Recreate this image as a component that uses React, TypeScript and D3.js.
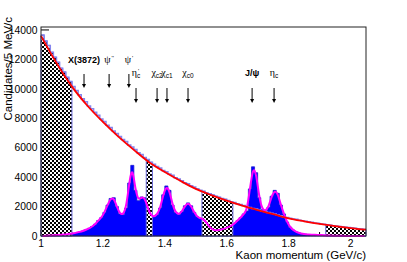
import React from 'react';
import * as d3 from 'd3';

// bins of 10 MeV/c starting at 1.00 GeV/c
const binStart = 1.0;
const binWidth = 0.01;

// inclusive spectrum (points along the background fit)
const totalCounts = [
  13650, 13250, 12950, 12480, 12150, 11800, 11400, 11150, 10780, 10500,
  10150, 9880, 9600, 9330, 9120, 8830, 8650, 8400, 8200, 7950,
  7780, 7520, 7380, 7130, 6970, 6760, 6560, 6420, 6180, 6050,
  5870, 5650, 5540, 5330, 5200, 5010, 4880, 4720, 4620, 4450,
  4360, 4220, 4130, 3960, 3870, 3760, 3620, 3550, 3410, 3330,
  3210, 3100, 3040, 2930, 2870, 2790, 2700, 2640, 2550, 2490,
  2410, 2320, 2270, 2190, 2140, 2070, 1990, 1940, 1870, 1830,
  1770, 1700, 1660, 1590, 1550, 1490, 1420, 1380, 1310, 1260,
  1210, 1160, 1130, 1070, 1040, 1000, 960, 930, 890, 860,
  820, 800, 760, 730, 700, 670, 650, 620, 590, 570,
  540, 520, 500, 470, 450
];

// signal spectrum (blue filled histogram)
const signalCounts = [
  0, 20, 30, 40, 50, 60, 80, 100, 120, 150,
  180, 230, 280, 340, 420, 520, 640, 800, 1050, 1250,
  1600, 2100, 2550, 2600, 2000, 1500, 1450, 1900, 3600, 4800,
  3100, 2400, 2650, 2600, 1900, 1400, 1300, 1450, 1900, 2800,
  3400, 3100, 2100, 1600, 1450, 1650, 2050, 2250, 2050, 1600,
  1300, 1200, 1150, 900, 600, 420, 380, 400, 450, 520,
  600, 700, 850, 1050, 1250, 1500, 1700, 3200, 4700, 4300,
  2600, 1800, 1700, 1950, 2700, 3100, 2900, 2100, 1500, 950,
  600, 400, 280, 200, 150, 120, 100, 90, 80, 70,
  60, 50, 40, 30, 20, 20, 10, 10, 10, 0,
  0, 0, 0, 0, 0
];

// background fit
const bgFitX = [1.0, 1.05, 1.1, 1.15, 1.2, 1.25, 1.3, 1.35, 1.4, 1.45, 1.5,
  1.55, 1.6, 1.65, 1.7, 1.75, 1.8, 1.85, 1.9, 1.95, 2.0, 2.05];
const bgFitY = [13600, 11750, 10150, 8850, 7750, 6750, 5850, 5000, 4350, 3750, 3200,
  2780, 2400, 2060, 1760, 1480, 1200, 1000, 820, 670, 540, 430];

// excluded momentum ranges
const vetoLow = [1.0, 1.34, 1.52, 1.92];
const vetoHigh = [1.1, 1.36, 1.62, 2.05];

const xTicks = [1, 1.2, 1.4, 1.6, 1.8, 2];
const xTickLabels = ['1', '1.2', '1.4', '1.6', '1.8', '2'];
const yTicks = [0, 2000, 4000, 6000, 8000, 10000, 12000, 14000];

// charmonium states
const markerMain = ['X(3872)', 'ψ', 'ψ', 'η', 'χ', 'χ', 'χ', 'J/ψ', 'η'];
const markerSup = ['', "''", "'", "'", '', '', '', '', ''];
const markerSub = ['', '', '', 'c', 'c2', 'c1', 'c0', '', 'c'];
const markerBold = [true, false, false, false, false, false, false, true, false];
const markerRow = [0, 0, 0, 1, 1, 1, 1, 1, 1];
const markerPos = [1.139, 1.22, 1.284, 1.307, 1.375, 1.407, 1.475, 1.682, 1.753];

const SANS = '"Liberation Sans", Arial, Helvetica, sans-serif';
const SERIF = '"Liberation Serif", "Times New Roman", serif';

const App: React.FC = () => {
  const svgRef = React.useRef<SVGSVGElement>(null);
  const width = 407;
  const height = 262;

  React.useEffect(() => {
    if (!svgRef.current) return;
    const svg = d3.select(svgRef.current);
    svg.selectAll('*').remove();

    const left = 41, right = 366, top = 27, bottom = 236;
    const x = d3.scaleLinear().domain([1.0, 2.05]).range([left, right]);
    const y = d3.scaleLinear().domain([0, 14200]).range([bottom, top]);

    // checkerboard fill for the vetoed regions
    const pat = svg.append('defs').append('pattern')
      .attr('id', 'checker')
      .attr('patternUnits', 'userSpaceOnUse')
      .attr('width', 4).attr('height', 4);
    pat.append('rect').attr('width', 4).attr('height', 4).attr('fill', '#fff');
    pat.append('rect').attr('width', 2).attr('height', 2).attr('fill', '#000');
    pat.append('rect').attr('x', 2).attr('y', 2).attr('width', 2).attr('height', 2).attr('fill', '#000');

    svg.append('rect').attr('width', width).attr('height', height).attr('fill', '#fff');

    // axis ticks (inside the frame)
    const g = svg.append('g');
    g.selectAll('.ytick').data(yTicks).enter().append('line')
      .attr('x1', left).attr('x2', left + 8)
      .attr('y1', d => y(d)).attr('y2', d => y(d))
      .attr('stroke', '#000');
    const xMinor = d3.range(10, 21).map(v => v / 10);
    g.selectAll('.xtick').data(xMinor).enter().append('line')
      .attr('x1', d => x(d)).attr('x2', d => x(d))
      .attr('y1', bottom)
      .attr('y2', (d, i) => bottom - (i % 2 === 0 ? 6 : 4))
      .attr('stroke', '#000');

    type Pt = [number, number];
    const totalPts: Pt[] = totalCounts.map((c, i) => [binStart + i * binWidth, c]);
    totalPts.push([binStart + totalCounts.length * binWidth, totalCounts[totalCounts.length - 1]]);
    const signalPts: Pt[] = signalCounts.map((c, i) => [binStart + i * binWidth, c]);
    signalPts.push([binStart + signalCounts.length * binWidth, signalCounts[signalCounts.length - 1]]);

    // signal histogram
    const stepArea = d3.area<Pt>()
      .x(d => x(d[0]))
      .y0(y(0))
      .y1(d => y(d[1]))
      .curve(d3.curveStepAfter);
    g.append('path')
      .datum(signalPts)
      .attr('d', stepArea)
      .attr('fill', '#0000ff')
      .attr('stroke', '#2020d0')
      .attr('stroke-width', 0.8);

    // vetoed regions
    vetoLow.forEach((lo, k) => {
      const hi = vetoHigh[k];
      const pts: Pt[] = totalPts.filter(p => p[0] >= lo - 1e-9 && p[0] < hi - 1e-9);
      pts.push([hi, pts[pts.length - 1][1]]);
      g.append('path')
        .datum(pts)
        .attr('d', stepArea)
        .attr('fill', 'url(#checker)')
        .attr('stroke', '#6a6ad8')
        .attr('stroke-width', 1);
    });

    // inclusive spectrum
    g.append('path')
      .datum(totalPts)
      .attr('d', d3.line<Pt>().x(d => x(d[0])).y(d => y(d[1])).curve(d3.curveStepAfter))
      .attr('fill', 'none')
      .attr('stroke', '#8585ee')
      .attr('stroke-width', 1.5);

    // signal fit
    const fitPts: Pt[] = signalCounts.map((c, i) => [binStart + (i + 0.5) * binWidth, c]);
    g.append('path')
      .datum(fitPts)
      .attr('d', d3.line<Pt>().x(d => x(d[0])).y(d => y(d[1])).curve(d3.curveBasis))
      .attr('fill', 'none')
      .attr('stroke', '#ff00ff')
      .attr('stroke-width', 2);

    // background fit
    g.append('path')
      .datum(bgFitX.map((v, i) => [v, bgFitY[i]] as Pt))
      .attr('d', d3.line<Pt>().x(d => x(d[0])).y(d => y(d[1])).curve(d3.curveMonotoneX))
      .attr('fill', 'none')
      .attr('stroke', '#ff0000')
      .attr('stroke-width', 1.8);

    // frame
    svg.append('rect')
      .attr('x', left).attr('y', top)
      .attr('width', right - left).attr('height', bottom - top)
      .attr('fill', 'none')
      .attr('stroke', '#222')
      .attr('stroke-width', 1);

    // tick labels
    svg.selectAll('.ylab').data(yTicks).enter().append('text')
      .attr('x', 37.5)
      .attr('y', d => y(d) + 3.7)
      .attr('text-anchor', 'end')
      .attr('font-family', SANS)
      .attr('font-size', 10.3)
      .text(d => d);
    svg.selectAll('.xlab').data(xTicks).enter().append('text')
      .attr('x', d => x(d))
      .attr('y', 247)
      .attr('text-anchor', 'middle')
      .attr('font-family', SANS)
      .attr('font-size', 10.3)
      .text((d, i) => xTickLabels[i]);

    // axis titles
    svg.append('text')
      .attr('x', right).attr('y', 258.5)
      .attr('text-anchor', 'end')
      .attr('font-family', SANS)
      .attr('font-size', 11.5)
      .text('Kaon momentum (GeV/c)');
    svg.append('text')
      .attr('transform', 'translate(11.5,17) rotate(-90)')
      .attr('text-anchor', 'end')
      .attr('font-family', SANS)
      .attr('font-size', 11.5)
      .text('Candidates/5 MeV/c');

    // state labels and arrows
    const rowLabelY = [63, 76];
    const rowArrowTop = [74, 88];
    const rowArrowBottom = [88, 103];
    markerPos.forEach((p, i) => {
      const px = x(p);
      const r = markerRow[i];
      const t = svg.append('text')
        .attr('x', px)
        .attr('y', rowLabelY[r])
        .attr('text-anchor', 'middle')
        .attr('font-size', 9);
      const greekOnly = markerMain[i].length === 1;
      t.append('tspan')
        .attr('font-family', greekOnly ? SERIF : SANS)
        .attr('font-size', greekOnly ? 10 : 9)
        .attr('font-weight', markerBold[i] ? 'bold' : 'normal')
        .text(markerMain[i]);
      if (markerSup[i]) {
        t.append('tspan')
          .attr('font-family', SANS)
          .attr('font-size', 6)
          .attr('dx', 1)
          .attr('dy', -3)
          .text(markerSup[i]);
      }
      if (markerSub[i]) {
        t.append('tspan')
          .attr('font-family', SANS)
          .attr('font-size', 6.5)
          .attr('dx', markerSup[i] ? -2 : 0)
          .attr('dy', markerSup[i] ? 5 : 2)
          .text(markerSub[i]);
      }

      const y0 = rowArrowTop[r];
      const y1 = rowArrowBottom[r];
      svg.append('line')
        .attr('x1', px).attr('x2', px)
        .attr('y1', y0).attr('y2', y1 - 3)
        .attr('stroke', '#000')
        .attr('stroke-width', 1);
      svg.append('path')
        .attr('d', `M${px - 2},${y1 - 4}L${px + 2},${y1 - 4}L${px},${y1}Z`)
        .attr('fill', '#000');
    });
  }, []);

  return (
    <div style={{ position: 'absolute', left: 0, top: 0 }}>
      <svg ref={svgRef} width={width} height={height} style={{ display: 'block' }} />
    </div>
  );
};

export default App;
